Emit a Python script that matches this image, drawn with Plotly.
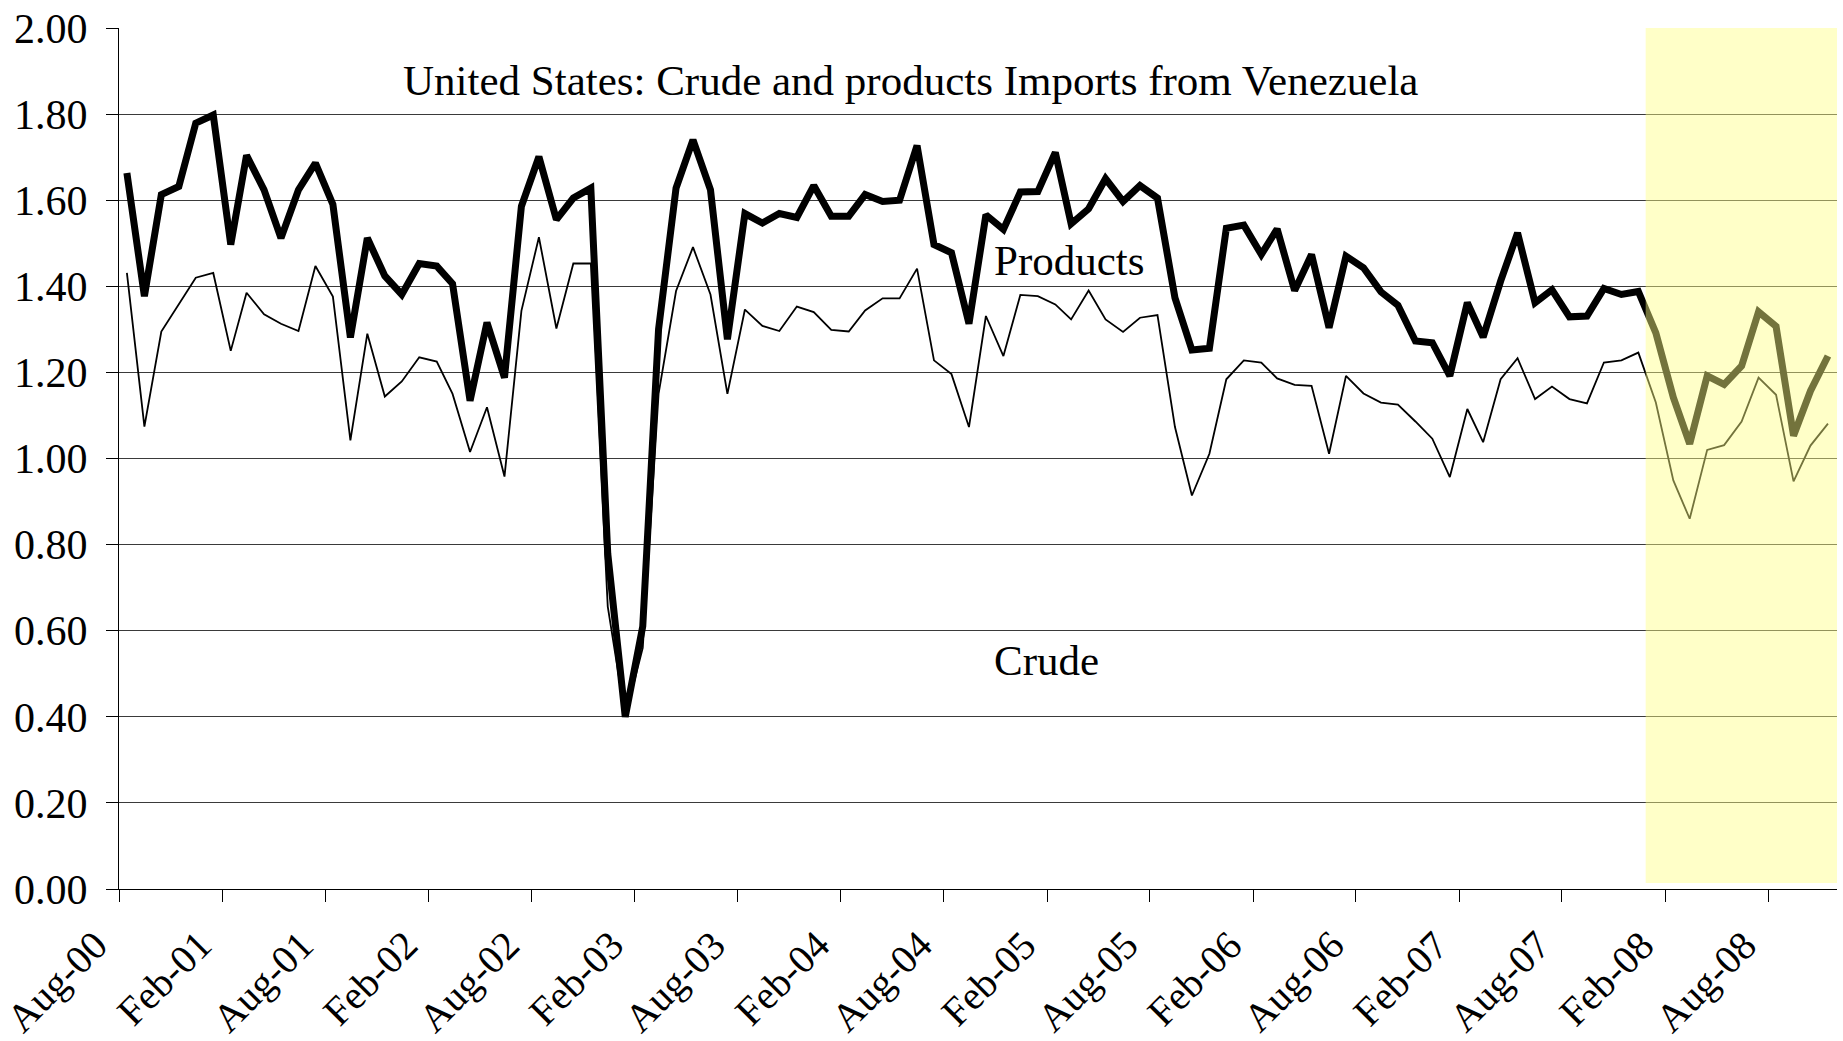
import pandas as pd
import plotly.graph_objects as go

# monthly, Aug-2000 .. Nov-2008 (million b/d)
months = pd.date_range("2000-08-01", periods=100, freq="MS") + pd.Timedelta(days=14)

total = [1.663, 1.377, 1.613, 1.632, 1.779, 1.798, 1.497, 1.704, 1.624, 1.512,
         1.624, 1.686, 1.590, 1.281, 1.512, 1.424, 1.381, 1.453, 1.447, 1.406,
         1.134, 1.316, 1.188, 1.586, 1.701, 1.555, 1.605, 1.628, 0.779, 0.400,
         0.610, 1.300, 1.628, 1.740, 1.624, 1.277, 1.569, 1.547, 1.569, 1.560,
         1.634, 1.563, 1.563, 1.613, 1.597, 1.600, 1.727, 1.497, 1.478, 1.313,
         1.566, 1.532, 1.619, 1.620, 1.711, 1.545, 1.580, 1.650, 1.597, 1.634,
         1.605, 1.373, 1.252, 1.256, 1.535, 1.542, 1.474, 1.533, 1.390, 1.474,
         1.304, 1.470, 1.443, 1.387, 1.356, 1.273, 1.269, 1.192, 1.362, 1.282,
         1.412, 1.524, 1.362, 1.392, 1.329, 1.331, 1.395, 1.381, 1.388, 1.292,
         1.142, 1.034, 1.192, 1.172, 1.215, 1.341, 1.307, 1.053, 1.157, 1.238]

crude = [1.431, 1.074, 1.295, 1.358, 1.420, 1.431, 1.250, 1.385, 1.335, 1.313,
         1.296, 1.447, 1.376, 1.042, 1.290, 1.144, 1.179, 1.235, 1.225, 1.150,
         1.015, 1.119, 0.958, 1.343, 1.514, 1.302, 1.453, 1.453, 0.656, 0.400,
         0.560, 1.150, 1.389, 1.491, 1.381, 1.150, 1.346, 1.308, 1.296, 1.353,
         1.340, 1.299, 1.295, 1.344, 1.372, 1.372, 1.441, 1.228, 1.196, 1.073,
         1.331, 1.238, 1.380, 1.377, 1.358, 1.323, 1.390, 1.323, 1.294, 1.327,
         1.333, 1.073, 0.914, 1.011, 1.184, 1.228, 1.223, 1.186, 1.171, 1.169,
         1.011, 1.192, 1.151, 1.130, 1.125, 1.086, 1.046, 0.957, 1.115, 1.038,
         1.184, 1.233, 1.138, 1.167, 1.138, 1.128, 1.223, 1.228, 1.246, 1.130,
         0.949, 0.860, 1.020, 1.031, 1.086, 1.188, 1.148, 0.947, 1.030, 1.081]

tick_labels = ["Aug-00", "Feb-01", "Aug-01", "Feb-02", "Aug-02", "Feb-03",
               "Aug-03", "Feb-04", "Aug-04", "Feb-05", "Aug-05", "Feb-06",
               "Aug-06", "Feb-07", "Aug-07", "Feb-08", "Aug-08"]
tick_dates = pd.date_range("2000-08-01", periods=len(tick_labels), freq="6MS")

FONT = "Liberation Serif, Times New Roman, serif"

fig = go.Figure()
fig.add_trace(go.Scatter(x=months, y=crude, mode="lines", name="Crude",
                         line=dict(color="black", width=1.8)))
fig.add_trace(go.Scatter(x=months, y=total, mode="lines", name="Crude and products",
                         line=dict(color="black", width=7)))

# shaded recent period
fig.add_shape(type="rect", xref="x", yref="y", layer="above",
              x0="2007-12-28", x1="2008-12-01", y0=0.014, y1=2.0,
              fillcolor="rgba(255,255,133,0.45)", line=dict(width=0))

fig.add_annotation(text="United States: Crude and products Imports from Venezuela",
                   xref="paper", yref="y", x=0.461, y=1.877, showarrow=False,
                   font=dict(size=43, color="black", family=FONT))
fig.add_annotation(text="Products", xref="paper", yref="y", x=0.553, y=1.461,
                   showarrow=False, font=dict(size=43, color="black", family=FONT))
fig.add_annotation(text="Crude", xref="paper", yref="y", x=0.540, y=0.531,
                   showarrow=False, font=dict(size=43, color="black", family=FONT))

# rotated month labels, ending just left of their tick
for d, lab in zip(tick_dates, tick_labels):
    fig.add_annotation(text=lab, x=d, xref="x", y=0, yref="paper",
                       textangle=-45, xanchor="right", yanchor="top",
                       xshift=0, yshift=-31, showarrow=False,
                       font=dict(size=40, color="black", family=FONT))

fig.update_layout(
    width=1843, height=1041,
    margin=dict(l=119, r=6, t=26, b=152),
    paper_bgcolor="white", plot_bgcolor="white",
    showlegend=False,
    font=dict(family=FONT, size=42, color="black"),
    xaxis=dict(type="date", range=["2000-08-01", "2008-12-01"],
               tickvals=tick_dates, showticklabels=False,
               ticks="outside", ticklen=12, tickcolor="black",
               showline=True, linecolor="black", linewidth=1,
               showgrid=False, zeroline=False),
    yaxis=dict(range=[0, 2.0], dtick=0.2, tickformat=".2f",
               ticks="outside", ticklen=12, tickcolor="black",
               ticklabelstandoff=10,
               showline=True, linecolor="black", linewidth=1,
               showgrid=True, gridcolor="#3a3a3a", gridwidth=1,
               zeroline=False),
)

fig.write_html("out.html", config={"displayModeBar": False},
               post_script="document.body.style.margin='0';")
